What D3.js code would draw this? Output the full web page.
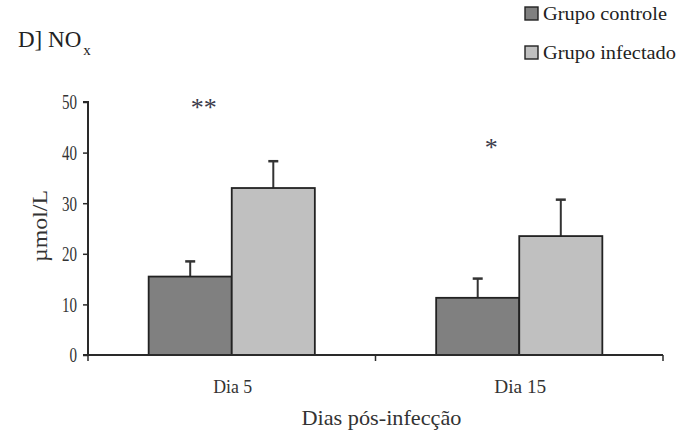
<!DOCTYPE html>
<html>
<head>
<meta charset="utf-8">
<script src="https://cdn.jsdelivr.net/npm/d3@7"></script>
<style>
  html, body { margin: 0; padding: 0; background: #fff; }
  svg { display: block; font-family: "Liberation Serif", "Times New Roman", serif; }
</style>
</head>
<body>
<svg id="chart" width="682" height="439"></svg>
<script>
// NOx concentration (µmol/L) by day post-infection
const days = ["Dia 5", "Dia 15"];
const groups = ["Grupo controle", "Grupo infectado"];
const controlMean = [15.5, 11.3];
const controlErr = [3.0, 3.8];
const infectedMean = [33.0, 23.5];
const infectedErr = [5.3, 7.2];
const significance = ["**", "*"];
const yTicks = [0, 10, 20, 30, 40, 50];
const groupColors = ["#808080", "#c0c0c0"];

const svg = d3.select("#chart");
const margin = { left: 88, right: 19, top: 102, bottom: 84 };
const W = 682, H = 439;
const x0 = margin.left, x1 = W - margin.right;
const yBase = H - margin.bottom;
const ink = "#2a2a2a";

const x = d3.scaleBand().domain(days).range([x0, x1]).paddingInner(0).paddingOuter(0);
const xg = d3.scaleBand().domain(groups).range([0, x.bandwidth() * 0.578]).padding(0);
const y = d3.scaleLinear().domain([0, 50]).range([yBase, margin.top]);

// narrow serif text helper (tall, condensed lettering)
function squeeze(sel, len) {
  return sel.attr("textLength", len).attr("lengthAdjust", "spacingAndGlyphs");
}

const rows = days.map((d, i) => ({
  day: d,
  sig: significance[i],
  vals: [
    { g: groups[0], v: controlMean[i], e: controlErr[i], c: groupColors[0] },
    { g: groups[1], v: infectedMean[i], e: infectedErr[i], c: groupColors[1] }
  ]
}));

// Bars with error bars
const gw = xg.range()[1];
const dayG = svg.selectAll("g.day").data(rows).join("g")
  .attr("class", "day")
  .attr("transform", d => `translate(${x(d.day) + (x.bandwidth() - gw) / 2},0)`);

dayG.selectAll("line.err").data(d => d.vals).join("line")
  .attr("class", "err")
  .attr("x1", d => xg(d.g) + xg.bandwidth() / 2)
  .attr("x2", d => xg(d.g) + xg.bandwidth() / 2)
  .attr("y1", d => y(d.v))
  .attr("y2", d => y(d.v + d.e))
  .attr("stroke", "#333").attr("stroke-width", 2);

dayG.selectAll("line.cap").data(d => d.vals).join("line")
  .attr("class", "cap")
  .attr("x1", d => xg(d.g) + xg.bandwidth() / 2 - 5)
  .attr("x2", d => xg(d.g) + xg.bandwidth() / 2 + 5)
  .attr("y1", d => y(d.v + d.e))
  .attr("y2", d => y(d.v + d.e))
  .attr("stroke", "#333").attr("stroke-width", 2.5);

dayG.selectAll("rect").data(d => d.vals).join("rect")
  .attr("x", d => xg(d.g))
  .attr("y", d => y(d.v))
  .attr("width", xg.bandwidth())
  .attr("height", d => y(0) - y(d.v))
  .attr("fill", d => d.c)
  .attr("stroke", "#222").attr("stroke-width", 1.8);

// Significance marks, set slightly left of each group centre
dayG.append("text")
  .attr("x", gw / 2 - 28)
  .attr("y", d => d.sig === "**" ? 115.5 : 156)
  .attr("text-anchor", "middle")
  .attr("font-size", 26)
  .attr("fill", "#3a3a4a")
  .text(d => d.sig);

// Y axis
const yAxis = d3.axisLeft(y).tickValues(yTicks).tickSize(5).tickPadding(6);
const ya = svg.append("g").attr("transform", `translate(${x0},0)`).call(yAxis);
ya.select(".domain").attr("stroke", ink).attr("stroke-width", 2).attr("d", `M-5,${y(50)}H0V${yBase}`);
ya.selectAll(".tick line").attr("stroke", ink).attr("stroke-width", 1.5);
ya.selectAll(".tick text").attr("font-family", "Liberation Serif").attr("font-size", 20)
  .attr("fill", "#333").attr("dy", "0.34em")
  .each(function(d) { squeeze(d3.select(this), String(d).length * 7.5); });

// X axis baseline with ticks at band edges
const xa = svg.append("g");
xa.append("line").attr("x1", x0 - 5).attr("x2", x1).attr("y1", yBase).attr("y2", yBase)
  .attr("stroke", ink).attr("stroke-width", 2);
const edges = [x0, x(days[1]), x1];
xa.selectAll("line.tk").data(edges).join("line").attr("class", "tk")
  .attr("x1", d => d).attr("x2", d => d).attr("y1", yBase).attr("y2", yBase + 6)
  .attr("stroke", ink).attr("stroke-width", 1.5);
xa.selectAll("text").data(days).join("text")
  .attr("x", d => x(d) + x.bandwidth() / 2 + 1)
  .attr("y", 393)
  .attr("text-anchor", "middle")
  .attr("font-size", 19).attr("fill", "#333")
  .text(d => d)
  .each(function(d) { squeeze(d3.select(this), d.length === 5 ? 39 : 52); });

// Axis titles
squeeze(svg.append("text").attr("x", x(days[0]) + x.bandwidth() + 6).attr("y", 425)
  .attr("text-anchor", "middle").attr("font-size", 22).attr("fill", "#333")
  .text("Dias pós-infecção"), 160);
squeeze(svg.append("text").attr("transform", `translate(47,226) rotate(-90)`)
  .attr("text-anchor", "middle").attr("font-size", 20).attr("fill", "#333")
  .text("µmol/L"), 72);

// Panel title: "D] NO" with subscript x
const title = svg.append("text").attr("x", 18).attr("y", 47)
  .attr("font-size", 23).attr("fill", "#222").text("D] NO");
const tw = title.node().getComputedTextLength();
svg.append("text").attr("x", 18 + tw + 2).attr("y", 55)
  .attr("font-size", 15).attr("fill", "#222").text("x");

// Legend
const leg = svg.append("g").selectAll("g").data(groups).join("g")
  .attr("transform", (d, i) => `translate(525,${13.5 + i * 39})`);
leg.append("rect").attr("x", 0).attr("y", -6.5).attr("width", 13).attr("height", 13)
  .attr("fill", (d, i) => groupColors[i]).attr("stroke", "#222").attr("stroke-width", 1.4);
leg.append("text").attr("x", 18).attr("y", 6.5).attr("font-size", 18).attr("fill", "#222")
  .attr("textLength", (d, i) => i === 0 ? 124 : 133).attr("lengthAdjust", "spacingAndGlyphs")
  .text(d => d);
</script>
</body>
</html>
